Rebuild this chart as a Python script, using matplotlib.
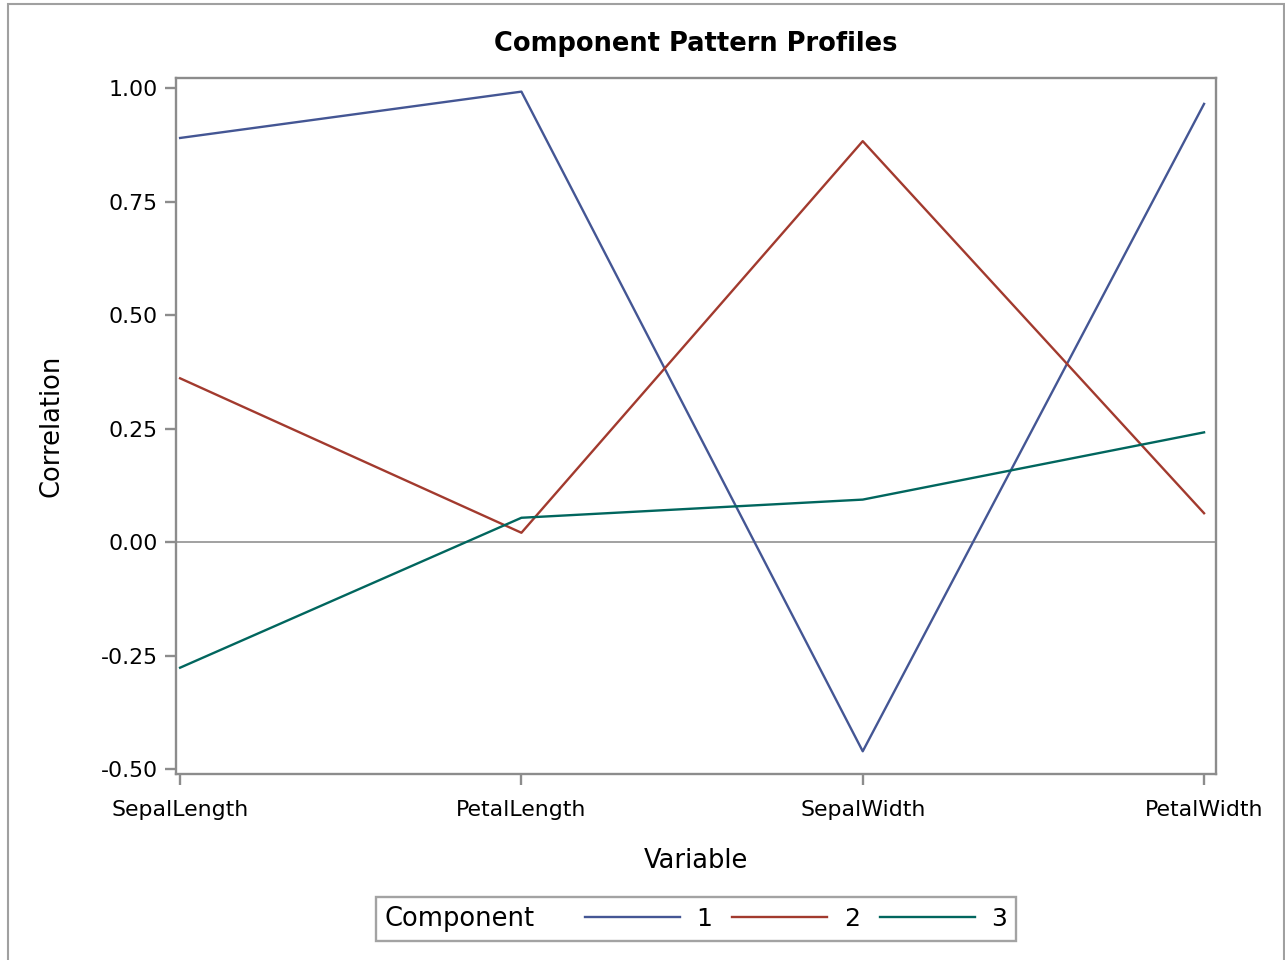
import matplotlib.pyplot as plt
from matplotlib.patches import Rectangle
from matplotlib.offsetbox import DrawingArea

# component pattern correlations
variables = ["SepalLength", "PetalLength", "SepalWidth", "PetalWidth"]
comp1 = [0.890, 0.992, -0.460, 0.965]
comp2 = [0.361, 0.021, 0.883, 0.064]
comp3 = [-0.276, 0.054, 0.094, 0.242]
components = ["1", "2", "3"]
colors = ["#445694", "#A23A2E", "#01665E"]

plt.rcParams['font.family'] = ['DejaVu Sans']
W, H = 1285, 960
fig = plt.figure(figsize=(W / 100, H / 100), dpi=100)
ax = fig.add_axes([176 / W, 1 - 774 / H, (1216 - 176) / W, (774 - 78) / H])

x = list(range(len(variables)))
for vals, lab, c in zip([comp1, comp2, comp3], components, colors):
    ax.plot(x, vals, color=c, linewidth=1.7, label=lab)

ax.axhline(0, color="#9a9a9a", linewidth=1.3, zorder=1)

ax.set_xlim(-0.012, 3.035)
ax.set_ylim(-0.51, 1.022)
ax.set_yticks([-0.5, -0.25, 0, 0.25, 0.5, 0.75, 1.0])
ax.set_yticklabels(["-0.50", "-0.25", "0.00", "0.25", "0.50", "0.75", "1.00"])
ax.set_xticks(x)
ax.set_xticklabels(variables)

for s in ax.spines.values():
    s.set_color("#8c8c8c")
    s.set_linewidth(1.7)
ax.tick_params(colors="#8c8c8c", labelcolor="black", labelsize=15.8,
               length=8, width=1.7)
ax.tick_params(axis="x", pad=11)
ax.tick_params(axis="y", pad=5)

ax.set_xlabel("Variable", fontsize=18.5, labelpad=20)
ax.set_ylabel("Correlation", fontsize=18.5, labelpad=26)
fig.text(696 / W, 1 - 44 / H, "Component Pattern Profiles", ha="center",
         va="center", fontsize=18.5, fontweight="bold")

# legend with the title sitting inline before the entries
leg = fig.legend(loc="center", bbox_to_anchor=(696 / W, 1 - 919 / H), ncol=3,
                 title="Component", title_fontsize=18.5, fontsize=18,
                 frameon=True, fancybox=False, edgecolor="#8c8c8c",
                 handlelength=3.8, handletextpad=0.68, columnspacing=0.9,
                 borderpad=0.35, borderaxespad=0)
leg.get_frame().set_linewidth(1.7)
box = leg.get_children()[0]
title_box, handle_box = box.get_children()
box._children = [handle_box]
handle_box._children = [title_box, DrawingArea(8, 1)] + handle_box.get_children()
handle_box.sep = 14

# outer border
fig.patches.append(Rectangle((8 / W, -0.05), (1284 - 8) / W, 1.05 - 4 / H,
                             transform=fig.transFigure, fill=False,
                             edgecolor="#a0a0a0", linewidth=1.5))

fig.savefig("out.png", dpi=100)
